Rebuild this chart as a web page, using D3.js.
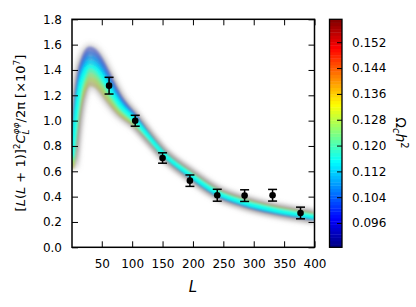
<!DOCTYPE html>
<html><head><meta charset="utf-8">
<script src="https://cdn.jsdelivr.net/npm/d3@7"></script>
<style>
body{margin:0;background:#fff}
svg{display:block}
text{font-family:"DejaVu Sans",sans-serif;fill:#000}
</style>
</head><body>
<script>
// ---------- data ----------
const knotsL = [2,5,10,15,20,25,30,40,50,60,80,105,130,150,195,240,285,330,377,400];
const omch2Samples = [0.100,0.104,0.108,0.112,0.116,0.120,0.124,0.128,0.132];
const curveW100 = [0.82,1.01,1.26,1.42,1.50,1.55,1.57,1.545,1.475,1.38,1.19,1.035,0.865,0.745,0.563,0.415,0.336,0.282,0.243,0.227];
const curveW104 = [0.795,0.98,1.23,1.385,1.465,1.515,1.535,1.51,1.445,1.35,1.17,1.025,0.86,0.745,0.566,0.419,0.340,0.286,0.247,0.231];
const curveW108 = [0.77,0.955,1.195,1.35,1.43,1.48,1.50,1.478,1.413,1.325,1.155,1.018,0.86,0.745,0.569,0.423,0.344,0.290,0.251,0.235];
const curveW112 = [0.745,0.928,1.163,1.315,1.395,1.445,1.465,1.444,1.381,1.298,1.138,1.009,0.858,0.745,0.572,0.426,0.348,0.294,0.254,0.238];
const curveW116 = [0.72,0.90,1.13,1.28,1.36,1.41,1.43,1.41,1.35,1.27,1.12,1.00,0.855,0.745,0.575,0.43,0.352,0.298,0.258,0.242];
const curveW120 = [0.695,0.873,1.098,1.245,1.325,1.375,1.395,1.376,1.319,1.243,1.103,0.991,0.853,0.745,0.578,0.434,0.356,0.302,0.262,0.246];
const curveW124 = [0.67,0.845,1.065,1.21,1.29,1.34,1.36,1.343,1.288,1.215,1.085,0.983,0.85,0.745,0.581,0.438,0.360,0.306,0.266,0.250];
const curveW128 = [0.645,0.818,1.033,1.175,1.255,1.305,1.325,1.309,1.256,1.188,1.068,0.974,0.848,0.745,0.584,0.441,0.364,0.310,0.269,0.253];
const curveW132 = [0.62,0.79,1.0,1.14,1.22,1.27,1.29,1.275,1.225,1.16,1.05,0.965,0.845,0.745,0.587,0.445,0.368,0.314,0.273,0.257];
const sampleCurves = [curveW100,curveW104,curveW108,curveW112,curveW116,curveW120,curveW124,curveW128,curveW132];

const binL   = [62,105,150,195,240,285,331,377];
const binVal = [1.276,0.999,0.705,0.526,0.411,0.408,0.411,0.271];
const binErr = [0.066,0.043,0.041,0.045,0.047,0.046,0.046,0.046];

const xTicks  = [50,100,150,200,250,300,350,400];
const yTicks  = [0.0,0.2,0.4,0.6,0.8,1.0,1.2,1.4,1.6,1.8];
const cbTicks = [0.096,0.104,0.112,0.120,0.128,0.136,0.144,0.152];
const cbDomain = [0.0885,0.1591];

// ---------- layout ----------
const W = 416, H = 307;
const X0 = 72, X1 = 314.5, Y0 = 247.3, Y1 = 19.3;
const CB0 = 329.5, CB1 = 342;

const svg = d3.select("body").append("svg").attr("width",W).attr("height",H);
const x = d3.scaleLinear().domain([1,400]).range([X0,X1]);
const y = d3.scaleLinear().domain([0,1.8]).range([Y0,Y1]);
const cb = d3.scaleLinear().domain(cbDomain).range([Y0,Y1]);

function jet(t){
  const c = v => Math.max(0,Math.min(1,v));
  const r = c(1.5-Math.abs(4*t-3)), g = c(1.5-Math.abs(4*t-2)), b = c(1.5-Math.abs(4*t-1));
  return d3.rgb(r*255,g*255,b*255);
}
const colorOf = w => jet((w-cbDomain[0])/(cbDomain[1]-cbDomain[0]));

const defs = svg.append("defs");
defs.append("clipPath").attr("id","clip").append("rect")
  .attr("x",X0).attr("y",Y1).attr("width",X1-X0).attr("height",Y0-Y1);
defs.append("filter").attr("id","halo").attr("x","-20%").attr("y","-20%").attr("width","140%").attr("height","140%")
  .append("feGaussianBlur").attr("stdDeviation",2.4);
defs.append("filter").attr("id","soft").attr("x","-20%").attr("y","-20%").attr("width","140%").attr("height","140%")
  .append("feGaussianBlur").attr("stdDeviation",0.8);

const line = d3.line().x((d,i)=>x(knotsL[i])).y(d=>y(d)).curve(d3.curveMonotoneX);

const band = svg.append("g").attr("clip-path","url(#clip)");
// grey halo
const gh = band.append("g").attr("filter","url(#halo)");
sampleCurves.forEach(c=>{
  gh.append("path").attr("d",line(c)).attr("fill","none")
    .attr("stroke","#8e8c8a").attr("stroke-width",11).attr("stroke-opacity",0.26);
});
// coloured sample curves: extremes first, centre last
const mid = 4;
const order = d3.range(sampleCurves.length).sort((a,b)=>Math.abs(b-mid)-Math.abs(a-mid));
const gc = band.append("g").attr("filter","url(#soft)");
order.forEach(i=>{
  const ext = Math.abs(i-mid)/4;
  const mix = i > mid ? 0.75*ext*ext : 0.5*ext*ext;
  const col = d3.interpolateRgb(colorOf(omch2Samples[i]), "#a09a8c")(mix);
  gc.append("path").attr("d",line(sampleCurves[i])).attr("fill","none")
    .attr("stroke",col).attr("stroke-width",4)
    .attr("stroke-opacity",0.9-0.25*ext);
});

// ---------- axes ----------
const fmt1 = d3.format(".1f");
const gx = svg.append("g").attr("transform",`translate(0,${Y0})`)
  .call(d3.axisBottom(x).tickValues(xTicks).tickSizeInner(-6).tickSizeOuter(0).tickPadding(12));
const gxt = svg.append("g").attr("transform",`translate(0,${Y1})`)
  .call(d3.axisTop(x).tickValues(xTicks).tickSizeInner(-6).tickSizeOuter(0).tickFormat(""));
const gy = svg.append("g").attr("transform",`translate(${X0},0)`)
  .call(d3.axisLeft(y).tickValues(yTicks).tickFormat(fmt1).tickSizeInner(-6).tickSizeOuter(0).tickPadding(10));
const gyr = svg.append("g").attr("transform",`translate(${X1},0)`)
  .call(d3.axisRight(y).tickValues(yTicks).tickSizeInner(-6).tickSizeOuter(0).tickFormat(""));
[gx,gxt,gy,gyr].forEach(g=>{
  g.select(".domain").remove();
  g.selectAll(".tick line").attr("stroke","#000").attr("stroke-width",1);
  g.selectAll(".tick text").attr("font-size",12).attr("font-family","DejaVu Sans");
});
svg.append("rect").attr("x",X0).attr("y",Y1).attr("width",X1-X0).attr("height",Y0-Y1)
  .attr("fill","none").attr("stroke","#000").attr("stroke-width",1.5);

// ---------- data points with error bars ----------
const pts = svg.append("g");
binL.forEach((L,i)=>{
  const cx = x(L), v = binVal[i], e = binErr[i];
  pts.append("line").attr("x1",cx).attr("x2",cx).attr("y1",y(v-e)).attr("y2",y(v+e))
    .attr("stroke","#000").attr("stroke-width",1.5);
  [v-e,v+e].forEach(yy=>pts.append("line").attr("x1",cx-4.5).attr("x2",cx+4.5)
    .attr("y1",y(yy)).attr("y2",y(yy)).attr("stroke","#000").attr("stroke-width",1.5));
  pts.append("circle").attr("cx",cx).attr("cy",y(v)).attr("r",3.3).attr("fill","#000");
});

// ---------- colorbar ----------
const nStripes = 70;
const cbg = svg.append("g");
d3.range(nStripes).forEach(k=>{
  const a = cbDomain[0] + (cbDomain[1]-cbDomain[0])*k/nStripes;
  const b = cbDomain[0] + (cbDomain[1]-cbDomain[0])*(k+1)/nStripes;
  cbg.append("rect").attr("x",CB0).attr("width",CB1-CB0)
    .attr("y",cb(b)).attr("height",cb(a)-cb(b)+0.4)
    .attr("fill",colorOf((a+b)/2));
});
cbg.append("rect").attr("x",CB0).attr("y",Y1).attr("width",CB1-CB0).attr("height",Y0-Y1)
  .attr("fill","none").attr("stroke","#000").attr("stroke-width",1.3);
const gcb = svg.append("g").attr("transform",`translate(${CB1},0)`)
  .call(d3.axisRight(cb).tickValues(cbTicks).tickFormat(d3.format(".3f")).tickSizeInner(-5).tickSizeOuter(0).tickPadding(10));
gcb.select(".domain").remove();
gcb.selectAll(".tick line").attr("stroke","#000").attr("stroke-width",1);
gcb.selectAll(".tick text").attr("font-size",12).attr("font-family","DejaVu Sans");

// ---------- labels ----------
svg.append("text").attr("x",193).attr("y",292).attr("text-anchor","middle")
  .attr("font-size",15).attr("font-style","italic").text("L");

const yl = svg.append("text").attr("transform","translate(25,133) rotate(-90)")
  .attr("text-anchor","middle").attr("font-size",13);
yl.append("tspan").text("[");
yl.append("tspan").attr("font-style","italic").text("L");
yl.append("tspan").text("(");
yl.append("tspan").attr("font-style","italic").text("L");
yl.append("tspan").text(" + 1)]");
yl.append("tspan").attr("font-size",9).attr("dy",-5).text("2");
yl.append("tspan").attr("font-style","italic").attr("dy",5).text("C");
yl.append("tspan").attr("font-style","italic").attr("font-size",9).attr("dy",4).text("L");
yl.append("tspan").attr("font-style","italic").attr("font-size",9).attr("dx",-5).attr("dy",-10).text("φφ");
yl.append("tspan").attr("dy",6).text("/2π [×10");
yl.append("tspan").attr("font-size",9).attr("dy",-5).text("7");
yl.append("tspan").attr("dy",5).text("]");

const cl = svg.append("text").attr("transform","translate(396,133) rotate(90)")
  .attr("text-anchor","middle").attr("font-size",14);
cl.append("tspan").text("Ω");
cl.append("tspan").attr("font-style","italic").attr("font-size",10).attr("dy",3).text("c");
cl.append("tspan").attr("font-style","italic").attr("dy",-3).text("h");
cl.append("tspan").attr("font-size",10).attr("dy",-5).text("2");
</script>
</body></html>
